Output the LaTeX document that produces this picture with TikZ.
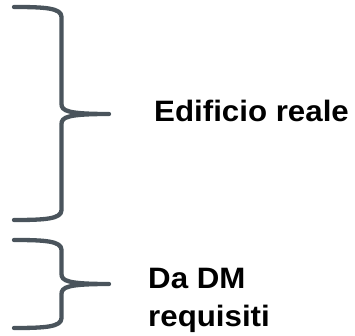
\documentclass[tikz,border=0pt]{standalone}
\usepackage{fontspec}
\newfontfamily\labfont[FakeStretch=1.06]{Liberation Sans}
\definecolor{bracec}{RGB}{74,84,92}
\begin{document}
\begin{tikzpicture}[x=1pt,y=-1pt,
  bracestyle/.style={draw=bracec,line width=4.3pt,line cap=round,line join=round},
  lab/.style={anchor=base west,inner sep=0pt,font=\labfont\bfseries\fontsize{29.5}{38}\selectfont,align=left}]
\useasboundingbox (0,0) rectangle (355,336);
% brace 1: top 7, tip 114, bottom 220
\draw[bracestyle] (14,7) .. controls (45,7) and (61.5,8) .. (61.5,17) -- (61.5,104)
  .. controls (61.5,111) and (68,114) .. (109,114)
  .. controls (68,114) and (61.5,117) .. (61.5,124) -- (61.5,210)
  .. controls (61.5,219) and (45,220) .. (14,220);
% brace 2: top 240, tip 284, bottom 328
\draw[bracestyle] (14,240) .. controls (45,240) and (61.5,241) .. (61.5,250) -- (61.5,274)
  .. controls (61.5,281) and (68,284) .. (109,284)
  .. controls (68,284) and (61.5,287) .. (61.5,294) -- (61.5,318)
  .. controls (61.5,327) and (45,328) .. (14,328);
\node[lab] (edificio) at (154,122) {Edificio reale};
\node[lab] (dadm) at (148,326) {Da DM\\requisiti};
\end{tikzpicture}
\end{document}
